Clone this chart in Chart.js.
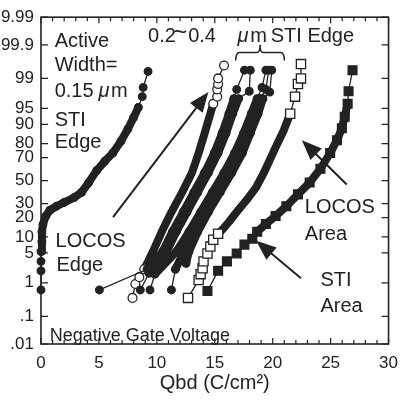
<!DOCTYPE html>
<html>
<head>
<meta charset="utf-8">
<script src="https://cdn.jsdelivr.net/npm/chart.js@4.4.0/dist/chart.umd.min.js"></script>
<style>
html,body{margin:0;padding:0;background:#fff;}
</style>
</head>
<body>
<canvas id="chartQbd" width="407" height="403"></canvas>
<script>
// ================= TICKS =================
const yTickValues = [0.01,0.1,1,5,10,20,30,50,70,80,90,95,99,99.9,99.99];
const yTickLabels = [".01",".1","1","5","10","20","30","50","70","80","90","95","99","99.9","99.99"];
const xTickValues = [0,5,10,15,20,25,30];

// ================= DATA (Qbd C/cm2 , cumulative %) =================
// active width 0.15um STI edge
const sti015Qbd = [0,0,0,0,0.08,0.08,0.17,0.42,0.76,1.34,2.0,2.86,3.5,4.1,4.8,5.5,6.2,6.9,7.5,8.0,8.4,8.74,8.82,9.24];
const sti015Pct = [0.64,2.0,3.3,5.3,8.2,12.2,16,21,25,28,31,35,39.4,48,59,67,73.5,81.5,88,92.5,95.2,97.2,98.3,99.35];

// LOCOS edge (open circles)
const locosEdgeQbd = [7.90,8.15,8.49,8.91,9.66,10.42,11.26,12.18,13.03,13.61,14.12,14.62,14.87,15.21,15.21,15.29,15.29,15.80];
const locosEdgePct = [0.38,0.93,1.4,2.18,5.3,12.2,23.7,39.4,57.1,73.5,85.9,93.6,96.0,97.2,98.1,98.6,99.0,99.56];

// 0.2~0.4um STI edge
const stiEdge1Qbd = [5.04,9.16,10.50,11.34,12.27,13.19,14.12,14.96,15.63,16.22,16.64,16.89,17.56];
const stiEdge1Pct = [0.64,2.18,5.3,12.2,23.7,39.4,57.1,73.5,85.9,93.6,96.9,98.1,99.4];
const stiEdge2Qbd = [8.57,9.33,10.84,11.68,12.61,13.53,14.45,15.29,15.97,16.55,17.06,17.98,18.07];
const stiEdge2Pct = [0.64,1.75,5.3,12.2,23.7,39.4,57.1,73.5,85.9,93.6,96.9,97.9,99.4];
const stiEdge3Qbd = [9.41,9.83,11.68,12.77,13.78,14.79,15.80,16.72,17.48,18.15,18.66,19.08,19.41];
const stiEdge3Pct = [0.64,1.66,5.3,12.2,23.7,39.4,57.1,73.5,85.9,93.6,96.9,98.3,99.4];
const stiEdge4Qbd = [11.26,11.60,12.35,13.19,14.12,15.13,16.13,17.06,17.82,18.49,18.91,19.41,19.66];
const stiEdge4Pct = [0.64,2.18,5.3,12.2,23.7,39.4,57.1,73.5,85.9,93.6,96.9,98.1,99.4];
const stiEdge5Qbd = [12.52,12.77,13.53,14.45,15.46,16.47,17.39,18.07,18.74,19.16,19.75,19.92];
const stiEdge5Pct = [2.98,5.3,12.2,23.7,39.4,57.1,73.5,85.9,93.6,96.9,97.8,99.4];

// LOCOS area (open squares)
const locosAreaQbd = [12.69,13.61,13.78,13.95,14.03,14.37,14.62,14.87,15.29,15.71,16.22,16.89,17.73,18.57,19.24,19.83,20.42,20.92,21.51,21.93,22.18,22.44,22.44];
const locosAreaPct = [0.38,1.18,1.66,2.3,3.3,4.86,6.65,8.9,11.3,13.6,17.3,23.7,32.7,43.8,57.1,69.7,80.3,86.9,93.6,97.2,98.6,99.0,99.6];

// STI area (filled squares)
const stiAreaQbd = [14.37,15.29,16.05,16.89,17.56,18.24,18.66,19.41,20.25,21.18,22.18,23.19,24.12,24.96,25.55,25.97,26.22,26.47,26.55,26.89];
const stiAreaPct = [0.60,2.0,3.3,4.86,7.25,9.3,12.2,16.2,21,28,37.7,48.2,60.6,73.5,82.1,88.3,92.7,96.0,97.9,99.4];

const ink = "#222";
const font = "'Liberation Sans', Arial, Helvetica, sans-serif";

// ================= PROBIT (normal probability) SCALE =================
function probit(pct){
  const p = pct/100;
  const a=[-39.69683028665376,220.9460984245205,-275.9285104469687,138.3577518672690,-30.66479806614716,2.506628277459239];
  const b=[-54.47609879822406,161.5858368580409,-155.6989798598866,66.80131188771972,-13.28068155288572];
  const c=[-0.007784894002430293,-0.3223964580411365,-2.400758277161838,-2.549732539343734,4.374664141464968,2.938163982698783];
  const d=[0.007784695709041462,0.3224671290700398,2.445134137142996,3.754408661907416];
  const lo=0.02425;
  let q,r;
  if(p<lo){
    q=Math.sqrt(-2*Math.log(p));
    return (((((c[0]*q+c[1])*q+c[2])*q+c[3])*q+c[4])*q+c[5])/((((d[0]*q+d[1])*q+d[2])*q+d[3])*q+1);
  }
  if(p>1-lo){
    q=Math.sqrt(-2*Math.log(1-p));
    return -(((((c[0]*q+c[1])*q+c[2])*q+c[3])*q+c[4])*q+c[5])/((((d[0]*q+d[1])*q+d[2])*q+d[3])*q+1);
  }
  q=p-0.5; r=q*q;
  return (((((a[0]*r+a[1])*r+a[2])*r+a[3])*r+a[4])*r+a[5])*q/(((((b[0]*r+b[1])*r+b[2])*r+b[3])*r+b[4])*r+1);
}

class ProbitScale extends Chart.Scale {
  determineDataLimits(){
    this.min = this.options.min;
    this.max = this.options.max;
  }
  buildTicks(){
    return yTickValues.map(v=>({value:v}));
  }
  configure(){
    super.configure();
    this._zMin = probit(this.min);
    this._zRange = probit(this.max) - this._zMin;
  }
  getLabelForValue(v){ return String(v); }
  getPixelForValue(v){
    return this.getPixelForDecimal((probit(v)-this._zMin)/this._zRange);
  }
  getValueForPixel(){ return null; }
}
ProbitScale.id = "probit";
ProbitScale.defaults = {};
Chart.register(ProbitScale);

// ================= SERIES =================
const series = [
  {qbd:sti015Qbd,    pct:sti015Pct,    style:"circle", open:false, r:3.8, thin:[3,3]},
  {qbd:stiEdge1Qbd,  pct:stiEdge1Pct,  style:"circle", open:false, r:3.8, thin:[1,2]},
  {qbd:stiEdge2Qbd,  pct:stiEdge2Pct,  style:"circle", open:false, r:3.8, thin:[1,2]},
  {qbd:stiEdge3Qbd,  pct:stiEdge3Pct,  style:"circle", open:false, r:3.8, thin:[1,2]},
  {qbd:stiEdge4Qbd,  pct:stiEdge4Pct,  style:"circle", open:false, r:3.8, thin:[1,2]},
  {qbd:stiEdge5Qbd,  pct:stiEdge5Pct,  style:"circle", open:false, r:3.8, thin:[0,2]},
  {qbd:stiAreaQbd,   pct:stiAreaPct,   style:"rect",   open:false, r:6.2, thin:[6,2]},
  {qbd:locosAreaQbd, pct:locosAreaPct, style:"rect",   open:true,  r:6.5, thin:[8,4]},
  {qbd:locosEdgeQbd, pct:locosEdgePct, style:"circle", open:true,  r:4.4, thin:[3,5]}
];
const bandWidth = 8;

function isTail(s,i){
  const n=s.qbd.length;
  return i<s.thin[0] || i>=n-1-s.thin[1];
}
function isTailPoint(s,i){
  const n=s.qbd.length;
  return i<=s.thin[0] || i>=n-1-s.thin[1];
}

const datasets = series.map(s=>({
  data: s.qbd.map((q,i)=>({x:q, y:s.pct[i]})),
  borderColor: ink,
  backgroundColor: s.open ? "#fff" : ink,
  borderWidth: bandWidth,
  borderCapStyle: "round",
  borderJoinStyle: "round",
  segment: { borderWidth: ctx => isTail(s,ctx.p0DataIndex) ? 1.3 : bandWidth },
  pointStyle: s.style,
  pointRadius: ctx => (s.open && !isTailPoint(s,ctx.dataIndex)) ? 0 : s.r,
  pointBackgroundColor: s.open ? "#fff" : ink,
  pointBorderColor: ink,
  pointBorderWidth: 1.3,
  fill: false,
  tension: 0,
  clip: false
}));

// ================= ANNOTATIONS =================
const notes = [
  {text:"Active",  x:1.18,  y:99.886},
  {text:"Width=",  x:1.18,  y:99.36},
  {text:"0.15",    x:1.18,  y:97.17},
  {text:"μ",       x:4.96,  y:97.17, italic:true},
  {text:"m",       x:6.05,  y:97.17},
  {text:"STI",     x:1.18,  y:89.5},
  {text:"Edge",    x:1.18,  y:77.0},
  {text:"0.2",     x:9.24,  y:99.921},
  {text:"~",       x:11.42, y:99.93, size:24},
  {text:"0.4",     x:12.7,  y:99.921},
  {text:"μ",       x:16.97, y:99.921, italic:true},
  {text:"m",       x:18.07, y:99.921},
  {text:"STI Edge",x:19.83, y:99.921},
  {text:"LOCOS",   x:1.26,  y:6.65},
  {text:"Edge",    x:1.34,  y:2.02},
  {text:"LOCOS",   x:22.77, y:23.0},
  {text:"Area",    x:22.77, y:8.93},
  {text:"STI",     x:24.12, y:0.822},
  {text:"Area",    x:24.12, y:0.143},
  {text:"Negative Gate Voltage", x:0.76, y:0.0129, size:18}
];
const arrows = [
  {from:[6.22,20.3],  to:[14.45,97.82]},
  {from:[26.39,46.4], to:[22.52,82.1]},
  {from:[22.44,1.32], to:[18.57,8.57]}
];
// curly bracket over the 0.2~0.4um curves
const bracketQbd = [16.81,17.14,18.91,20.67,21.01];
const bracketPct = [99.688,99.822,99.901,99.822,99.688];

const decorPlugin = {
  id:"decor",
  afterDatasetsDraw(chart){
    const {ctx, chartArea:a, scales:{x,y}} = chart;
    ctx.save();
    ctx.strokeStyle = ink;
    ctx.fillStyle = ink;

    // frame
    ctx.lineWidth = 1.6;
    ctx.strokeRect(a.left,a.top,a.right-a.left,a.bottom-a.top);

    // inward tick marks
    ctx.lineWidth = 1.2;
    ctx.beginPath();
    for(let i=0;i<=30;i++){
      const px = x.getPixelForValue(i);
      const l = i%5===0 ? 6 : 4;
      ctx.moveTo(px,a.bottom); ctx.lineTo(px,a.bottom-l);
      ctx.moveTo(px,a.top);    ctx.lineTo(px,a.top+l);
    }
    yTickValues.forEach(v=>{
      const py = y.getPixelForValue(v);
      ctx.moveTo(a.left,py);  ctx.lineTo(a.left+7,py);
      ctx.moveTo(a.right,py); ctx.lineTo(a.right-7,py);
    });
    ctx.stroke();

    // arrows
    arrows.forEach(ar=>{
      const x0=x.getPixelForValue(ar.from[0]), y0=y.getPixelForValue(ar.from[1]);
      const x1=x.getPixelForValue(ar.to[0]),   y1=y.getPixelForValue(ar.to[1]);
      const ang=Math.atan2(y1-y0,x1-x0), hl=20, hw=8;
      ctx.lineWidth=2;
      ctx.beginPath();
      ctx.moveTo(x0,y0);
      ctx.lineTo(x1-Math.cos(ang)*hl*0.8, y1-Math.sin(ang)*hl*0.8);
      ctx.stroke();
      ctx.beginPath();
      ctx.moveTo(x1,y1);
      ctx.lineTo(x1-Math.cos(ang)*hl-Math.sin(ang)*hw, y1-Math.sin(ang)*hl+Math.cos(ang)*hw);
      ctx.lineTo(x1-Math.cos(ang)*hl+Math.sin(ang)*hw, y1-Math.sin(ang)*hl-Math.cos(ang)*hw);
      ctx.closePath();
      ctx.fill();
    });

    // bracket
    const bx = bracketQbd.map(v=>x.getPixelForValue(v));
    const by = bracketPct.map(v=>y.getPixelForValue(v));
    ctx.lineWidth=1.5;
    ctx.beginPath();
    ctx.moveTo(bx[0],by[0]);
    ctx.quadraticCurveTo(bx[0],by[1],bx[1],by[1]);
    ctx.lineTo(bx[2]-3,by[1]);
    ctx.quadraticCurveTo(bx[2],by[1],bx[2],by[2]);
    ctx.quadraticCurveTo(bx[2],by[3],bx[2]+3,by[3]);
    ctx.lineTo(bx[3],by[3]);
    ctx.quadraticCurveTo(bx[4],by[3],bx[4],by[4]);
    ctx.stroke();

    // texts
    ctx.textBaseline="alphabetic";
    ctx.textAlign="left";
    notes.forEach(n=>{
      ctx.font = (n.italic?"italic ":"")+(n.size||20)+"px "+font;
      ctx.fillText(n.text, x.getPixelForValue(n.x), y.getPixelForValue(n.y));
    });
    ctx.restore();
  }
};

// ================= CHART =================
new Chart(document.getElementById("chartQbd"),{
  type:"line",
  data:{ datasets },
  options:{
    responsive:false,
    animation:false,
    events:[],
    layout:{ padding:{top:12,right:9,left:0,bottom:0} },
    plugins:{ legend:{display:false}, tooltip:{enabled:false} },
    scales:{
      x:{
        type:"linear", min:0, max:30,
        afterBuildTicks:s=>{ s.ticks = xTickValues.map(v=>({value:v})); },
        afterFit:s=>{ s.height = 59; },
        grid:{display:false, drawTicks:false},
        border:{display:false},
        ticks:{ color:ink, padding:9, font:{family:font,size:17} },
        title:{ display:true, text:"Qbd (C/cm²)", color:ink,
                font:{family:font,size:20}, padding:{top:2,bottom:8} }
      },
      y:{
        type:"probit", min:0.01, max:99.99,
        afterFit:s=>{ s.width = 41; },
        grid:{display:false, drawTicks:false},
        border:{display:false},
        ticks:{ color:ink, padding:7, autoSkip:false,
                font:{family:font,size:17},
                callback:(v,i)=>yTickLabels[i] }
      }
    }
  },
  plugins:[decorPlugin]
});
</script>
</body>
</html>
